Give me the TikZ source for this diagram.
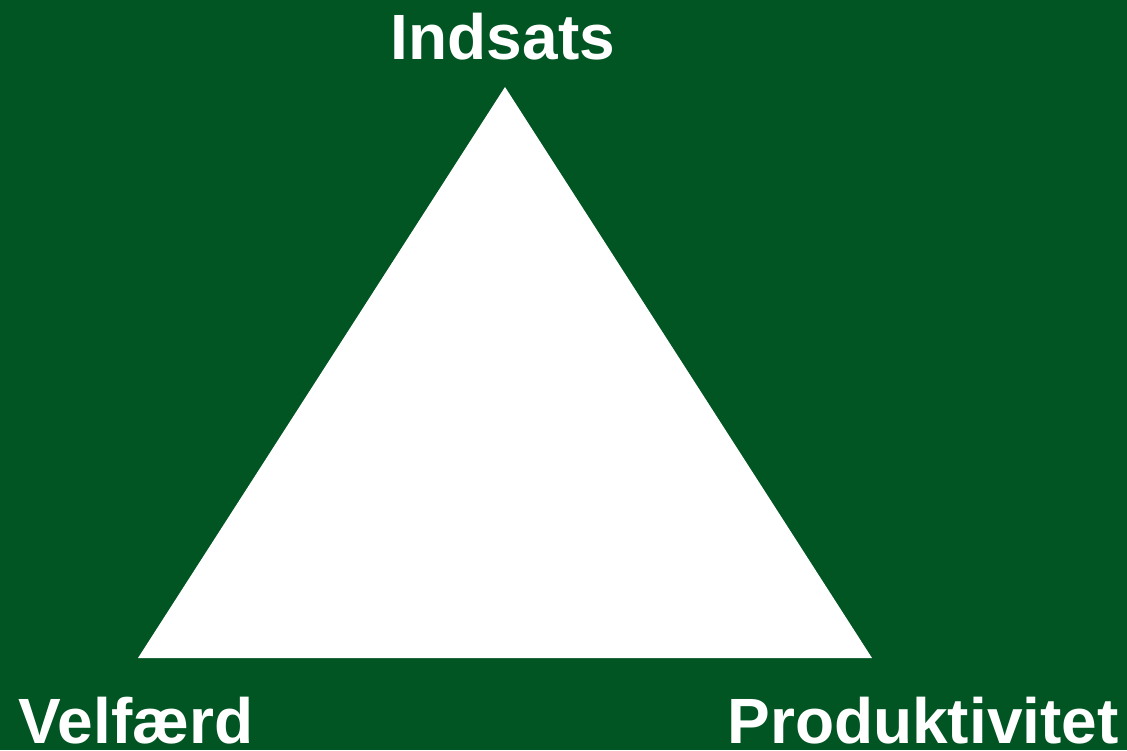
\documentclass[tikz,border=0pt]{standalone}
\usepackage{fontspec}
\setmainfont{Liberation Sans}
\definecolor{bggreen}{RGB}{0,85,34}
\begin{document}
\begin{tikzpicture}[x=1pt,y=-1pt,
  lbl/.style={text=white,font=\bfseries\fontsize{64}{64}\selectfont,anchor=base,inner sep=0pt}]
\fill[bggreen] (0,0) rectangle (1127,750);
\useasboundingbox (0,0) rectangle (1127,750);
\coordinate (top) at (505,87);
\coordinate (bl) at (138,658);
\coordinate (br) at (872,658);
\fill[white] (top) -- (bl) -- (br) -- cycle;
\node[lbl] (indsats) at (503,59) {Indsats};
\node[lbl] (velfaerd) at (136,743) {Velfærd};
\node[lbl] (prod) at (923,743) {Produktivitet};
\end{tikzpicture}
\end{document}
